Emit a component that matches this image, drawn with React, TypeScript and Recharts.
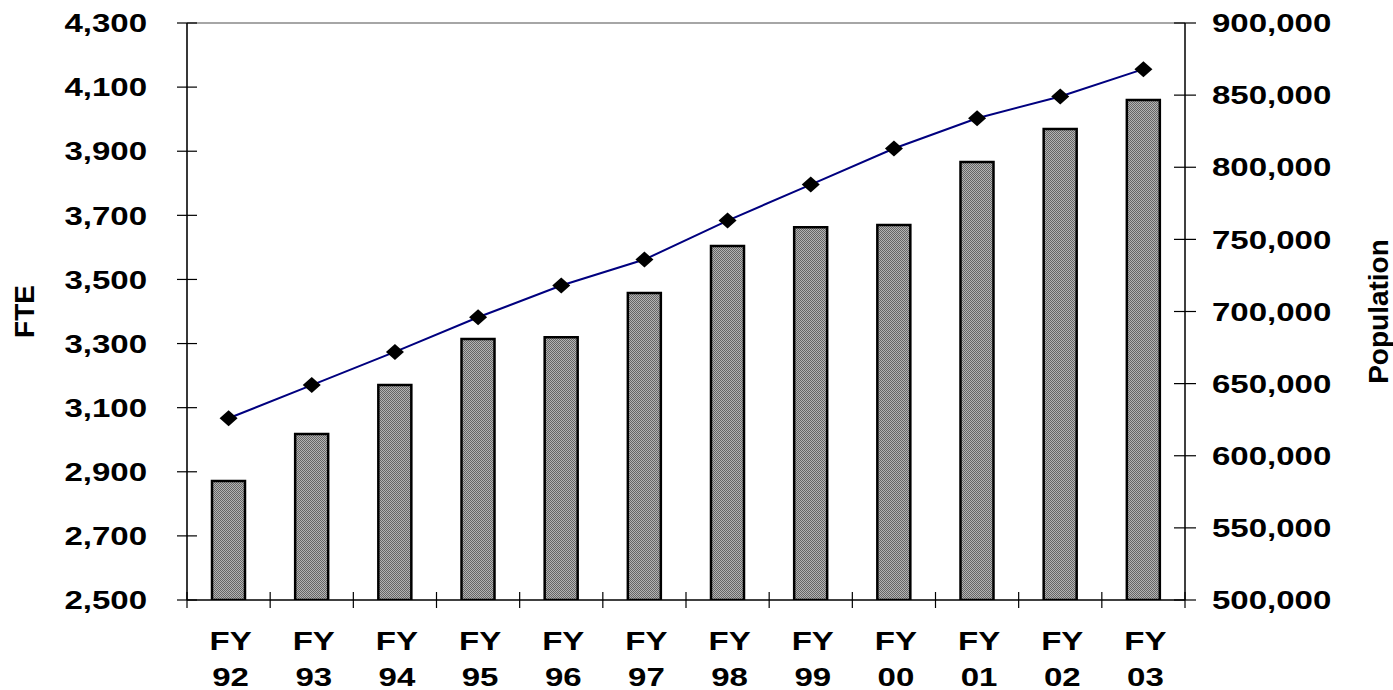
import React from 'react';
import { ComposedChart, Bar, Line, XAxis, YAxis, ReferenceLine } from 'recharts';

const years = ['92', '93', '94', '95', '96', '97', '98', '99', '00', '01', '02', '03'];
const fte = [2871, 3018, 3171, 3314, 3320, 3458, 3604, 3663, 3670, 3866, 3969, 4060];
const population = [626000, 649000, 672000, 696000, 718000, 736000, 763000, 788000, 813000, 834000, 849000, 868000];
const fteTicks = [2500, 2700, 2900, 3100, 3300, 3500, 3700, 3900, 4100, 4300];
const popTicks = [500000, 550000, 600000, 650000, 700000, 750000, 800000, 850000, 900000];

const data = years.map((yr, i) => ({ yr, fte: fte[i], population: population[i] }));

const W = 1393;
const H = 690;
const LEFT_W = 187;
const RIGHT_W = 208;
const BAND = (W - LEFT_W - RIGHT_W) / years.length;
const FONT = '"Liberation Sans", Arial, sans-serif';
const STRETCH = 1.27;

const fmt = (v: number) => v.toLocaleString('en-US');

function LeftTick({ x, y, payload }: any) {
  return (
    <g>
      <line x1={x - 10} x2={x + 10} y1={y} y2={y} stroke="#000" strokeWidth={1.2} />
      <text
        transform={`translate(${x - 40},${y}) scale(${STRETCH},1)`}
        textAnchor="end"
        dominantBaseline="central"
        fontFamily={FONT}
        fontWeight="bold"
        fontSize={26}
        fill="#000"
      >
        {fmt(payload.value)}
      </text>
    </g>
  );
}

function RightTick({ x, y, payload }: any) {
  return (
    <g>
      <line x1={x - 11} x2={x + 11} y1={y} y2={y} stroke="#000" strokeWidth={1.2} />
      <text
        transform={`translate(${x + 27},${y}) scale(${STRETCH},1)`}
        textAnchor="start"
        dominantBaseline="central"
        fontFamily={FONT}
        fontWeight="bold"
        fontSize={26}
        fill="#000"
      >
        {fmt(payload.value)}
      </text>
    </g>
  );
}

function YearTick({ x, y, payload, index }: any) {
  const left = x - BAND / 2;
  const right = x + BAND / 2;
  const label = (txt: string, dy: number) => (
    <text
      transform={`translate(${x + 2},${y + dy}) scale(${STRETCH},1)`}
      textAnchor="middle"
      dominantBaseline="central"
      fontFamily={FONT}
      fontWeight="bold"
      fontSize={26}
      fill="#000"
    >
      {txt}
    </text>
  );
  return (
    <g>
      <line x1={left} x2={left} y1={y - 8} y2={y + 8} stroke="#000" strokeWidth={1.2} />
      {index === years.length - 1 && (
        <line x1={right} x2={right} y1={y - 8} y2={y + 8} stroke="#000" strokeWidth={1.2} />
      )}
      {label('FY', 41)}
      {label(payload.value, 77)}
    </g>
  );
}

// black diamond marker on the population line
function Diamond({ cx, cy }: any) {
  if (cx == null || cy == null) return null;
  const rx = 9;
  const ry = 8;
  return <polygon points={`${cx},${cy - ry} ${cx + rx},${cy} ${cx},${cy + ry} ${cx - rx},${cy}`} fill="#000" />;
}

const axisTitle = (text: string, dx: number) => ({ viewBox }: any) => {
  const cx = viewBox.x + dx;
  const cy = viewBox.y + viewBox.height / 2;
  return (
    <text
      transform={`translate(${cx},${cy}) rotate(-90)`}
      textAnchor="middle"
      dominantBaseline="central"
      fontFamily={FONT}
      fontWeight="bold"
      fontSize={28}
      fill="#000"
    >
      {text}
    </text>
  );
};

export default function App() {
  return (
    <div style={{ position: 'absolute', left: 0, top: 0, background: '#fff' }}>
      <ComposedChart width={W} height={H} data={data} margin={{ top: 23, right: 0, bottom: 0, left: 0 }}>
        <defs>
          <pattern id="dots" width="2" height="2" patternUnits="userSpaceOnUse">
            <rect width="2" height="2" fill="#b4b4b4" />
            <rect x="0" y="0" width="1" height="1" fill="#666" />
            <rect x="1" y="1" width="1" height="1" fill="#666" />
          </pattern>
        </defs>
        <XAxis
          dataKey="yr"
          height={90}
          tickSize={0}
          tickMargin={0}
          tickLine={false}
          axisLine={{ stroke: '#000', strokeWidth: 1.5 }}
          tick={<YearTick />}
          interval={0}
        />
        <YAxis
          yAxisId="fte"
          orientation="left"
          width={LEFT_W}
          domain={[2500, 4300]}
          ticks={fteTicks}
          allowDataOverflow
          tickSize={0}
          tickMargin={0}
          tickLine={false}
          axisLine={{ stroke: '#222', strokeWidth: 1.8 }}
          tick={<LeftTick />}
          label={{ content: axisTitle('FTE', 24) }}
        />
        <YAxis
          yAxisId="pop"
          orientation="right"
          width={RIGHT_W}
          domain={[500000, 900000]}
          ticks={popTicks}
          allowDataOverflow
          tickSize={0}
          tickMargin={0}
          tickLine={false}
          axisLine={{ stroke: '#000', strokeWidth: 1.5 }}
          tick={<RightTick />}
          label={{ content: axisTitle('Population', 193) }}
        />
        <ReferenceLine yAxisId="fte" y={4300} stroke="#888" strokeWidth={1.5} />
        <Bar
          yAxisId="fte"
          dataKey="fte"
          barSize={33}
          fill="url(#dots)"
          stroke="#000"
          strokeWidth={2.5}
          isAnimationActive={false}
        />
        <Line
          yAxisId="pop"
          dataKey="population"
          stroke="#00007f"
          strokeWidth={2}
          dot={<Diamond />}
          activeDot={false}
          isAnimationActive={false}
        />
      </ComposedChart>
    </div>
  );
}
